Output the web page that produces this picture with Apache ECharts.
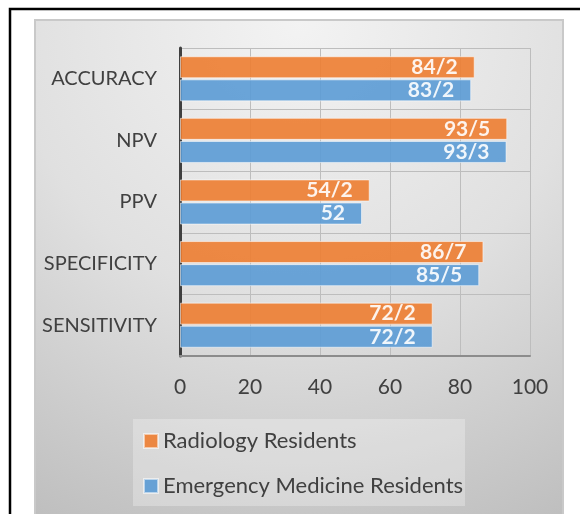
<!DOCTYPE html>
<html>
<head>
<meta charset="utf-8">
<script src="https://cdn.jsdelivr.net/npm/echarts@6/dist/echarts.min.js"></script>
<style>
html,body{margin:0;padding:0;background:#fff;}
#chart{width:580px;height:514px;}
</style>
</head>
<body>
<div id="chart"></div>
<script>
const categories = ['SENSITIVITY', 'SPECIFICITY', 'PPV', 'NPV', 'ACCURACY'];
const radiology = [72.2, 86.7, 54.2, 93.5, 84.2];
const emergency = [72.2, 85.5, 52, 93.3, 83.2];
const seriesNames = ['Radiology Residents', 'Emergency Medicine Residents'];
const xTicks = [0, 20, 40, 60, 80, 100];

const FONT = 'Lato';
const chart = echarts.init(document.getElementById('chart'));
const labelFmt = p => String(p.value).replace('.', '/');
const barLabel = {
  show: true, position: 'insideRight', distance: 17,
  color: '#fff', fontWeight: 'bold', fontSize: 21, fontFamily: FONT,
  formatter: labelFmt
};
chart.setOption({
  animation: false,
  graphic: [
    { type: 'rect', z: -10, shape: { x: 10, y: 9, width: 620, height: 620 },
      style: { fill: '#fff', stroke: '#000', lineWidth: 2.5 } },
    { type: 'rect', z: -9, shape: { x: 35, y: 20, width: 528, height: 520 },
      style: {
        stroke: '#c9c9c9', lineWidth: 2,
        fill: new echarts.graphic.RadialGradient(0.5, 0.0, 1.1, [
          { offset: 0, color: '#f3f3f3' },
          { offset: 0.5, color: '#e0e0e0' },
          { offset: 1, color: '#bdbdbd' }
        ])
      } }
  ],
  grid: { left: 180, right: 50, top: 48, bottom: 158, containLabel: false },
  legend: {
    data: seriesNames,
    orient: 'vertical', left: 133, top: 419,
    padding: [11, 2, 9, 10], itemGap: 23,
    backgroundColor: 'rgba(255,255,255,0.28)',
    itemWidth: 14, itemHeight: 14, icon: 'rect',
    textStyle: { color: '#404040', fontSize: 22, fontFamily: FONT, lineHeight: 22 }
  },
  xAxis: {
    type: 'value', min: xTicks[0], max: xTicks[xTicks.length - 1], interval: 20,
    axisLine: { show: true, lineStyle: { color: '#8c8c8c', width: 2 } },
    axisTick: { show: false },
    axisLabel: { color: '#404040', fontSize: 21, fontFamily: FONT, margin: 21 },
    splitLine: { show: true, lineStyle: { color: '#bdbdbd', width: 1 } }
  },
  yAxis: {
    type: 'category', data: categories,
    axisLine: { show: true, lineStyle: { color: '#404040', width: 3 } },
    axisTick: { show: false },
    axisLabel: { color: '#404040', fontSize: 20, fontFamily: FONT, margin: 23 },
    splitLine: { show: true, lineStyle: { color: '#bdbdbd', width: 1 } }
  },
  series: [
    { name: seriesNames[0], type: 'bar', data: radiology, barWidth: 22, barGap: '5%',
      itemStyle: { color: '#ED7D31', opacity: 0.9, borderColor: 'rgba(255,255,255,0.6)', borderWidth: 1 },
      label: barLabel },
    { name: seriesNames[1], type: 'bar', data: emergency, barWidth: 22, barGap: '5%',
      itemStyle: { color: '#5B9BD5', opacity: 0.9, borderColor: 'rgba(255,255,255,0.6)', borderWidth: 1 },
      label: barLabel }
  ]
});
</script>
</body>
</html>
